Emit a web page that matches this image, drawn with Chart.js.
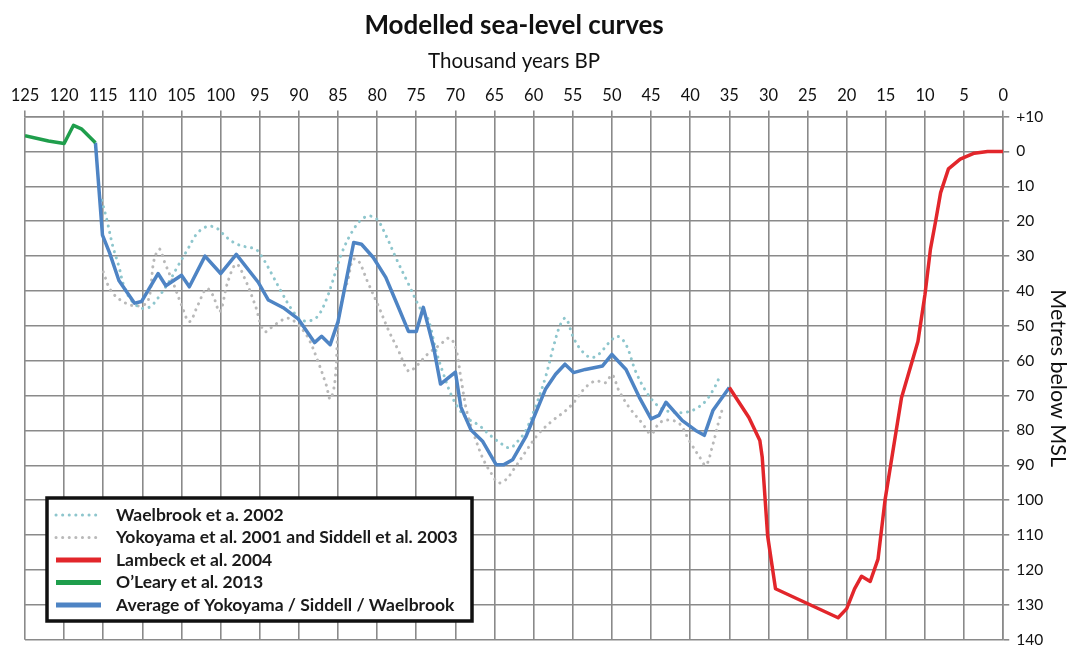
<!DOCTYPE html>
<html>
<head>
<meta charset="utf-8">
<title>Modelled sea-level curves</title>
<script src="https://cdn.jsdelivr.net/npm/chart.js@4.4.1/dist/chart.umd.min.js"></script>
<style>
  html, body { margin: 0; padding: 0; background: #fff; overflow: hidden; }
  #wrap { width: 1080px; height: 656px; position: relative; }
</style>
</head>
<body>
<div id="wrap"><canvas id="seaLevel"></canvas></div>
<script>
// ages in thousand years BP, depths in metres below MSL (negative = above)
const wbAge   = [115.2, 114.5, 113.8, 113, 112.3, 111.3, 110, 109, 108, 106.5, 105.5, 104.2, 103, 101.7, 100.5, 99.3, 98, 96.5, 95.5, 94.5, 93.5, 92.3, 91, 89.7, 88.5, 87.5, 86.5, 85.8, 84.5, 83.2, 82, 81, 80, 79, 77.5, 76, 74.5, 73.5, 72.5, 71.5, 70.5, 69.5, 68.5, 67, 65.5, 64, 63, 62, 61, 59.8, 58.5, 57.4, 56.6, 55.9, 54.9, 53.8, 52.7, 51.7, 50.4, 49.3, 48.2, 47, 45.7, 44.4, 43.1, 41.8, 40.6, 39.3, 38, 36.9, 36.1];
const wbDepth = [14, 20, 27, 33, 39, 43, 45, 44.5, 42, 37, 33, 28, 23.5, 21.5, 22, 24.5, 26.5, 27.5, 28, 31, 35, 40, 45, 48.3, 48.5, 47, 42.5, 38, 29, 23, 19.5, 18.5, 19.5, 23.5, 31, 38, 45, 48, 57, 64, 70, 74, 76.5, 78.5, 81.5, 84, 85, 83, 80, 73.4, 64.8, 55.4, 49.7, 47.8, 53.5, 57.3, 59.1, 58.2, 54.9, 53, 55.4, 62.9, 68.6, 72.4, 74.3, 74.8, 74.8, 73.8, 71.5, 67.7, 63.9];

const ykAge   = [115, 114, 112.3, 110.6, 109.3, 108.5, 107.8, 107.2, 106.1, 105, 104, 102.9, 101.8, 101, 100.1, 99.1, 98, 96.9, 95.6, 94.4, 93.1, 91.4, 90.1, 88.8, 87.6, 86.5, 86, 85.4, 84.8, 83.7, 83.1, 82.4, 81.2, 79.8, 78.6, 77.3, 76, 75.2, 73.5, 72, 70.8, 70, 69.3, 68.5, 67.5, 66.5, 65.5, 64.5, 63.5, 62.5, 61, 59.4, 57.6, 55.9, 54.7, 53.4, 52.1, 50.8, 50, 49.1, 47.8, 46.1, 45, 44, 43, 41.4, 40.1, 38.8, 38, 37.1, 36.3, 35.9];
const ykDepth = [34.5, 40, 43.3, 44.3, 43, 31, 28, 31.5, 37.5, 44, 48.8, 44, 39.3, 41.2, 45.9, 37.5, 32.3, 36.5, 44, 51.6, 49.7, 47.8, 49.7, 53.5, 60, 67, 71, 66, 46, 36.5, 31, 31.3, 37.5, 44.5, 51, 57, 63, 62, 58, 55.5, 53.5, 56, 65, 75, 82, 88, 92, 95, 94, 91, 86, 81, 77.2, 74.3, 71.5, 67.7, 65.8, 66.3, 64, 68.6, 73.4, 78, 81, 78, 77, 78, 83, 87.6, 90, 84, 77, 74];

const lbAge   = [35, 32.5, 31.1, 30.8, 30.1, 29.1, 21.1, 20, 19, 18.1, 17, 16, 15.1, 13, 10.9, 10, 9.3, 8.6, 8, 7, 5.5, 3.7, 2, 0];
const lbDepth = [67.7, 76.3, 82.9, 87.6, 110.3, 125.4, 133.7, 131.1, 125.4, 121.8, 123.3, 116.9, 99.9, 70.6, 54.5, 41, 28, 19.5, 11.8, 5, 2.2, 0.5, 0, 0];

const olAge   = [125, 122, 120, 118.8, 117.8, 116];
const olDepth = [-4.5, -3, -2.3, -7.5, -6.5, -2.5];

const avgAge   = [116, 115.1, 114.2, 113, 111, 110.1, 108, 107, 105, 104, 102, 100, 98, 95.2, 93.9, 92, 90.1, 88, 87.1, 86, 85, 83, 82, 80.5, 78.9, 77.3, 76, 75, 74.1, 72.8, 71.9, 70, 69.3, 68, 66.5, 64.8, 63.8, 62.7, 61, 58.5, 57.2, 56, 54.9, 53.4, 51.2, 50, 48.2, 46.5, 45, 44, 43.1, 41, 39.3, 38.2, 37.1, 35];
const avgDepth = [-2.5, 24, 29, 37, 43.5, 43, 35, 38.5, 35.5, 38.8, 30, 35, 29.5, 37.5, 42.6, 44.8, 48, 54.8, 53, 55.4, 48.8, 26.1, 26.6, 30.4, 36.1, 44.6, 51.6, 51.6, 44.7, 56, 66.7, 63.3, 73.3, 79.9, 83.2, 89.8, 89.8, 88.4, 81.8, 68.2, 63.9, 61, 63.4, 62.5, 61.5, 58.2, 62.5, 70.5, 76.7, 75.7, 71.9, 77.2, 80, 81.4, 74.3, 67.7];

const toPoints = (ages, depths) => ages.map((a, i) => ({ x: a, y: depths[i] }));

const FONT = 'Lato, "Open Sans", sans-serif';
const GRID = '#8a8a8a';

// legend box drawn inside the plot, lower left
const boxLegend = {
    id: 'boxLegend',
    afterDraw(chart) {
        const { ctx, chartArea } = chart;
        const left = chartArea.left + 22, top = 498, w = 425, h = 123;
        ctx.save();
        ctx.fillStyle = '#fff';
        ctx.fillRect(left, top, w, h);
        ctx.lineWidth = 3.5;
        ctx.strokeStyle = '#111';
        ctx.strokeRect(left, top, w, h);
        ctx.font = 'bold 17.5px ' + FONT;
        ctx.textBaseline = 'middle';
        chart.data.datasets.forEach((ds, i) => {
            const y = top + 17 + i * 22.5;
            ctx.beginPath();
            ctx.lineWidth = ds.legendWidth;
            ctx.lineCap = ds.borderCapStyle || 'butt';
            ctx.setLineDash(ds.borderDash || []);
            ctx.strokeStyle = ds.borderColor;
            ctx.moveTo(left + 9, y);
            ctx.lineTo(left + 54, y);
            ctx.stroke();
            ctx.setLineDash([]);
            ctx.fillStyle = '#1a1a1a';
            ctx.fillText(ds.label, left + 69, y);
        });
        ctx.restore();
    }
};

new Chart(document.getElementById('seaLevel'), {
    type: 'scatter',
    data: {
        datasets: [
            { label: 'Waelbrook et a. 2002', data: toPoints(wbAge, wbDepth), borderColor: '#8ec6cd', borderWidth: 3, borderDash: [0.1, 6.5], borderCapStyle: 'round', tension: 0.35, order: 3, legendWidth: 3 },
            { label: 'Yokoyama et al. 2001 and Siddell et al. 2003', data: toPoints(ykAge, ykDepth), borderColor: '#b9b9b9', borderWidth: 3, borderDash: [0.1, 6.5], borderCapStyle: 'round', tension: 0.35, order: 4, legendWidth: 3 },
            { label: 'Lambeck et al. 2004', data: toPoints(lbAge, lbDepth), borderColor: '#e2262b', borderWidth: 3.5, order: 1, legendWidth: 5 },
            { label: 'O\u2019Leary et al. 2013', data: toPoints(olAge, olDepth), borderColor: '#1f9e4c', borderWidth: 3.5, order: 1, legendWidth: 5 },
            { label: 'Average of Yokoyama / Siddell / Waelbrook', data: toPoints(avgAge, avgDepth), borderColor: '#4e84c4', borderWidth: 3.5, order: 2, legendWidth: 5 }
        ]
    },
    options: {
        responsive: true,
        maintainAspectRatio: false,
        animation: false,
        showLine: true,
        elements: { point: { radius: 0, hoverRadius: 0 }, line: { borderJoinStyle: 'round' } },
        layout: { padding: { left: 25, right: 0, top: 10, bottom: 0 } },
        plugins: {
            legend: { display: false },
            tooltip: { enabled: false },
            title: {
                display: true,
                fullSize: false,
                text: 'Modelled sea-level curves',
                color: '#111',
                font: { family: FONT, size: 26, weight: 'bold' },
                padding: { top: 0, bottom: 8 }
            }
        },
        scales: {
            x: {
                type: 'linear',
                position: 'top',
                reverse: true,
                min: 0,
                max: 125,
                ticks: { stepSize: 5, autoSkip: false, maxRotation: 0, color: '#111', padding: 5, font: { family: FONT, size: 16.5 } },
                grid: { color: GRID, lineWidth: 1.6, tickLength: 6 },
                border: { color: GRID, width: 1.6 },
                title: { display: true, text: 'Thousand years BP', color: '#111', font: { family: FONT, size: 20.5 }, padding: { top: 0, bottom: 7 } }
            },
            y: {
                type: 'linear',
                position: 'right',
                reverse: true,
                min: -10,
                max: 140,
                ticks: {
                    stepSize: 10, color: '#111', padding: 7, font: { family: FONT, size: 15.5 },
                    callback: v => v < 0 ? '+' + (-v) : String(v)
                },
                grid: { color: GRID, lineWidth: 1.6, tickLength: 6 },
                border: { color: GRID, width: 1.6 },
                title: { display: true, text: 'Metres below MSL', color: '#111', font: { family: FONT, size: 21.5 }, padding: { top: 9, bottom: -5 } }
            }
        }
    },
    plugins: [boxLegend]
});
</script>
</body>
</html>
